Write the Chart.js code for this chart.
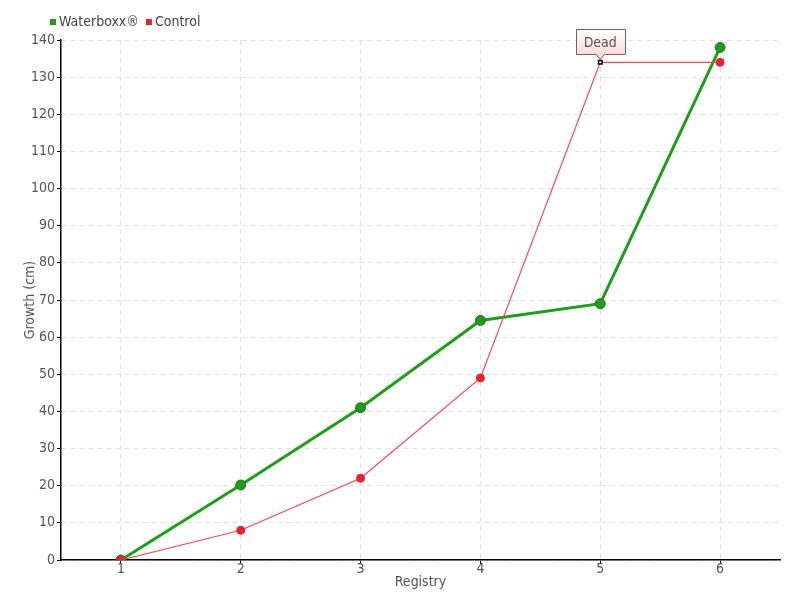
<!DOCTYPE html>
<html>
<head>
<meta charset="utf-8">
<script src="https://cdn.jsdelivr.net/npm/chart.js@4"></script>
<style>
html,body{margin:0;padding:0;background:#fff;}
#wrap{width:800px;height:600px;}
</style>
</head>
<body>
<div id="wrap"><canvas id="c" width="800" height="600"></canvas></div>
<script>
const categories = ['1', '2', '3', '4', '5', '6'];
const waterboxx = [0, 20.2, 41, 64.5, 69, 138];
const control = [0, 8, 22, 49, 134, 134];
const yTicksMin = 0, yTicksMax = 140, yStep = 10;
const annotationIndex = 4;
const annotationText = 'Dead';

const FONT = '"Liberation Sans Narrow", "DejaVu Sans Condensed", "Roboto Condensed", "Roboto", sans-serif';
const GREEN = '#1f9e1a';
const RED = '#e8212f';

const legendPlugin = {
  id: 'customLegend',
  afterDraw(chart) {
    const ctx = chart.ctx;
    ctx.save();
    ctx.font = '14px ' + FONT;
    ctx.textBaseline = 'middle';
    ctx.textAlign = 'left';
    let x = 50;
    const y = 22;
    chart.data.datasets.forEach((ds, i) => {
      ctx.fillStyle = i === 0 ? GREEN : RED;
      ctx.fillRect(x, y - 3, 6, 6);
      x += 9;
      ctx.fillStyle = '#444';
      ctx.fillText(ds.label, x, y);
      x += ctx.measureText(ds.label).width + 7;
    });
    ctx.restore();
  }
};

const deadPlugin = {
  id: 'dead',
  afterDatasetsDraw(chart) {
    const ctx = chart.ctx;
    const meta = chart.getDatasetMeta(1);
    const pt = meta.data[annotationIndex];
    if (!pt) return;
    const px = pt.x, py = pt.y;
    ctx.save();
    ctx.font = '14px ' + FONT;
    const w = 49, h = 25;
    const x0 = Math.round(px - w / 2) + 0.5, y0 = Math.round(py - 8 - h) + 0.5;
    const g = ctx.createLinearGradient(0, y0, 0, y0 + h);
    g.addColorStop(0, '#ffffff');
    g.addColorStop(1, '#fdd8d8');
    ctx.beginPath();
    ctx.moveTo(x0, y0);
    ctx.lineTo(x0 + w, y0);
    ctx.lineTo(x0 + w, y0 + h);
    ctx.lineTo(px + 4, y0 + h);
    ctx.lineTo(px, y0 + h + 5);
    ctx.lineTo(px - 4, y0 + h);
    ctx.lineTo(x0, y0 + h);
    ctx.closePath();
    ctx.fillStyle = g;
    ctx.fill();
    ctx.strokeStyle = '#666';
    ctx.lineWidth = 1;
    ctx.stroke();
    ctx.fillStyle = '#555';
    ctx.textAlign = 'center';
    ctx.textBaseline = 'middle';
    ctx.fillText(annotationText, px, y0 + h / 2 + 1);
    ctx.restore();
  }
};

const redStyles = control.map((v, i) => i === annotationIndex ? 'rect' : 'circle');
const redBg = control.map((v, i) => i === annotationIndex ? '#ffffff' : RED);
const redBorder = control.map((v, i) => i === annotationIndex ? '#000000' : RED);
const redRadius = control.map((v, i) => i === annotationIndex ? 2.5 : 4);
const redBW = control.map((v, i) => i === annotationIndex ? 1.5 : 1);

new Chart(document.getElementById('c'), {
  type: 'line',
  data: {
    labels: categories,
    datasets: [
      {
        label: 'Waterboxx®',
        data: waterboxx,
        borderColor: GREEN,
        backgroundColor: GREEN,
        borderWidth: 3,
        pointRadius: 5,
        pointBackgroundColor: '#229a22',
        pointBorderColor: '#187a18',
        pointBorderWidth: 1,
        tension: 0,
        order: 2
      },
      {
        label: 'Control',
        data: control,
        borderColor: '#ff4455',
        backgroundColor: RED,
        borderWidth: 1.2,
        pointStyle: redStyles,
        pointRadius: redRadius,
        pointBackgroundColor: redBg,
        pointBorderColor: redBorder,
        pointBorderWidth: redBW,
        tension: 0,
        order: 1
      }
    ]
  },
  options: {
    responsive: false,
    animation: false,
    devicePixelRatio: 1,
    layout: { padding: { left: 0, right: 20, top: 40, bottom: 0 } },
    plugins: {
      legend: { display: false },
      tooltip: { enabled: false }
    },
    scales: {
      x: {
        type: 'category',
        offset: true,
        afterFit(scale) { scale.height = 40; },
        grid: {
          offset: false,
          color: '#e2e2e2',
          lineWidth: 1,
          drawTicks: true,
          tickLength: 4,
          tickColor: '#000',
          tickBorderDash: [],
          tickWidth: 1
        },
        border: { display: true, color: '#000', width: 1.5, dash: [5, 4] },
        ticks: { color: '#555', font: { family: FONT, size: 14 }, padding: -3, maxRotation: 0 },
        title: { display: true, text: 'Registry', color: '#555', font: { family: FONT, size: 14 }, padding: { top: 0, bottom: 9 } }
      },
      y: {
        min: yTicksMin,
        max: yTicksMax,
        afterFit(scale) { scale.width = 61; },
        grid: {
          color: '#e2e2e2',
          lineWidth: 1,
          drawTicks: true,
          tickLength: 4,
          tickColor: '#000',
          tickBorderDash: [],
          tickWidth: 1
        },
        border: { display: true, color: '#000', width: 1.5, dash: [5, 4] },
        ticks: { stepSize: yStep, color: '#555', font: { family: FONT, size: 14 }, padding: 2 },
        title: { display: true, text: 'Growth (cm)', color: '#555', font: { family: FONT, size: 14 }, padding: { top: 22, bottom: 0 } }
      }
    }
  },
  plugins: [deadPlugin, legendPlugin]
});
</script>
</body>
</html>
